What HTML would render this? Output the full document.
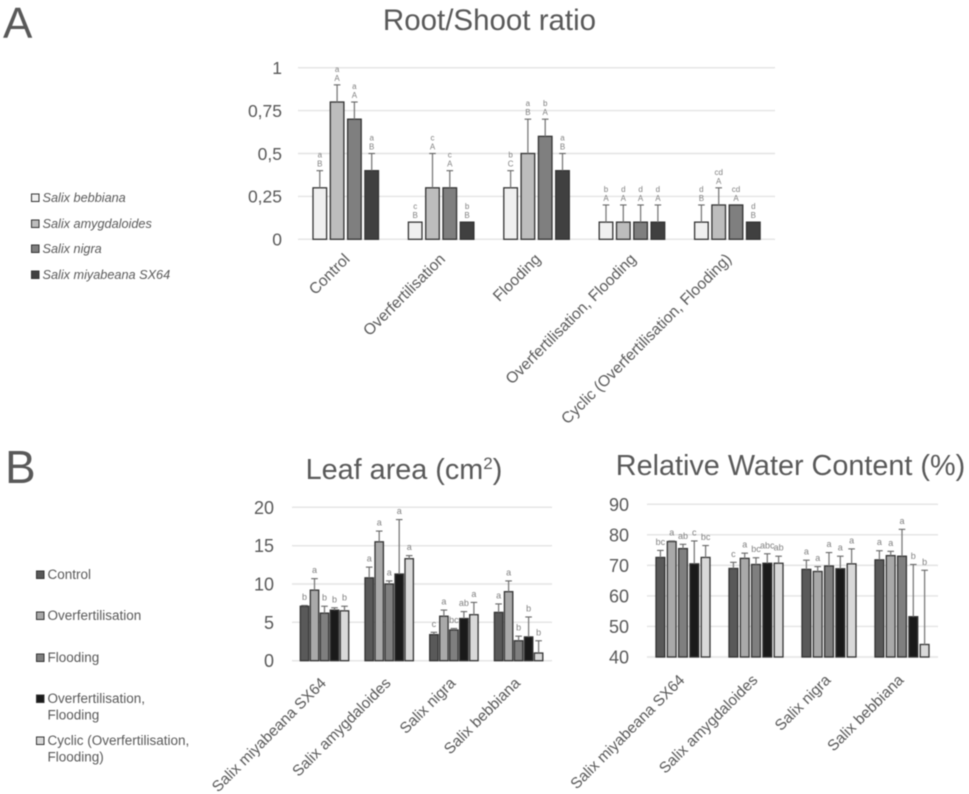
<!DOCTYPE html>
<html lang="en">
<head>
<meta charset="utf-8">
<title>Root/Shoot ratio, leaf area and relative water content of Salix species</title>
<style>
  html, body { margin: 0; padding: 0; background: #fff; }
  body { width: 969px; height: 794px; overflow: hidden; }
  svg { display: block; font-family: "Liberation Sans", sans-serif; filter: blur(0.45px); }
  text { fill: #595959; }
</style>
</head>
<body>
<svg id="figure" width="969" height="794" viewBox="0 0 969 794" xmlns="http://www.w3.org/2000/svg">
  <text x="3" y="38" font-size="44">A</text>
  <text x="5" y="483" font-size="46">B</text>
  <text x="489.5" y="30" font-size="29.5" text-anchor="middle">Root/Shoot ratio</text>
  <text x="404" y="479" font-size="28.8" text-anchor="middle">Leaf area (cm<tspan font-size="17" dy="-10">2</tspan><tspan dy="10">)</tspan></text>
  <text x="790.5" y="475" font-size="28.8" text-anchor="middle">Relative Water Content (%)</text>
</svg>
<script>
// Panel A: Root/Shoot ratio
const rootCategories = ['Control', 'Overfertilisation', 'Flooding', 'Overfertilisation, Flooding', 'Cyclic (Overfertilisation, Flooding)'];
const rootSeries = ['Salix bebbiana', 'Salix amygdaloides', 'Salix nigra', 'Salix miyabeana SX64'];
const rootTicks = [0, 0.25, 0.5, 0.75, 1];
const rootTickLabels = ['0', '0,25', '0,5', '0,75', '1'];
const rootValues = [
  [0.3, 0.8, 0.7, 0.4],
  [0.1, 0.3, 0.3, 0.1],
  [0.3, 0.5, 0.6, 0.4],
  [0.1, 0.1, 0.1, 0.1],
  [0.1, 0.2, 0.2, 0.1]
];
const rootErrors = [
  [0.1, 0.1, 0.1, 0.1],
  [0, 0.2, 0.1, 0],
  [0.1, 0.2, 0.1, 0.1],
  [0.1, 0.1, 0.1, 0.1],
  [0.1, 0.1, 0, 0]
];
const rootLetters = [
  [['a', 'B'], ['a', 'A'], ['a', 'A'], ['a', 'B']],
  [['c', 'B'], ['c', 'A'], ['c', 'A'], ['b', 'B']],
  [['b', 'C'], ['a', 'B'], ['b', 'A'], ['a', 'B']],
  [['b', 'A'], ['d', 'A'], ['d', 'A'], ['d', 'A']],
  [['d', 'B'], ['cd', 'A'], ['cd', 'A'], ['d', 'B']]
];
const rootColors = ['#f0f0f0', '#bdbdbd', '#7f7f7f', '#404040'];

// Panel B: shared categories and treatments
const speciesCategories = ['Salix miyabeana SX64', 'Salix amygdaloides', 'Salix nigra', 'Salix bebbiana'];
const treatmentSeries = ['Control', 'Overfertilisation', 'Flooding', 'Overfertilisation, Flooding', 'Cyclic (Overfertilisation, Flooding)'];
const treatmentColors = ['#595959', '#a9a9a9', '#7f7f7f', '#1a1a1a', '#d9d9d9'];

// Panel B: Leaf area
const leafTicks = [0, 5, 10, 15, 20];
const leafTickLabels = ['0', '5', '10', '15', '20'];
const leafValues = [
  [7.1, 9.2, 6.2, 6.6, 6.5],
  [10.8, 15.5, 10.0, 11.3, 13.3],
  [3.4, 5.8, 4.0, 5.5, 6.0],
  [6.3, 9.0, 2.6, 3.1, 1.0]
];
const leafErrors = [
  [0.1, 1.5, 0.9, 0.3, 0.6],
  [1.4, 1.4, 0.4, 7.1, 0.4],
  [0.3, 0.8, 0.2, 0.9, 1.6],
  [1.1, 1.4, 0.6, 2.6, 1.6]
];
const leafLetters = [
  ['b', 'a', 'b', 'b', 'b'],
  ['a', 'a', 'a', 'a', 'a'],
  ['c', 'a', 'bc', 'ab', 'a'],
  ['a', 'a', 'b', 'b', 'b']
];

// Panel B: Relative Water Content
const waterTicks = [40, 50, 60, 70, 80, 90];
const waterTickLabels = ['40', '50', '60', '70', '80', '90'];
const waterValues = [
  [72.6, 77.8, 75.5, 70.5, 72.6],
  [69.0, 72.3, 70.3, 70.7, 70.7],
  [68.7, 68.0, 69.8, 68.9, 70.5],
  [71.8, 73.2, 73.0, 53.2, 44.1]
];
const waterErrors = [
  [2.3, 0.2, 1.4, 7.5, 3.9],
  [2.0, 1.7, 2.2, 3.1, 2.3],
  [3.0, 1.6, 4.4, 4.1, 4.9],
  [3.0, 1.4, 8.8, 17.1, 24.3]
];
const waterLetters = [
  ['bc', 'a', 'ab', 'c', 'bc'],
  ['c', 'a', 'bc', 'abc', 'ab'],
  ['a', 'a', 'a', 'a', 'a'],
  ['a', 'a', 'a', 'b', 'b']
];

const SVG_NS = 'http://www.w3.org/2000/svg';
const figure = document.getElementById('figure');

function make(tag, props, parent) {
  const el = document.createElementNS(SVG_NS, tag);
  Object.keys(props).forEach(function (k) { el.setAttribute(k, props[k]); });
  (parent || figure).appendChild(el);
  return el;
}

function drawChart(o) {
  const yScale = function (v) {
    return o.y0 + (v - o.ticks[0]) / (o.ticks[o.ticks.length - 1] - o.ticks[0]) * (o.y1 - o.y0);
  };
  const barX = function (g, s) { return o.x0 + g * o.groupPitch + s * o.barPitch; };
  const group = make('g', {});
  
  

  o.ticks.forEach(function (t, i) {
    const line = make('line', { x1: o.gridX0, x2: o.gridX1, y1: yScale(t), y2: yScale(t), stroke: '#e3e3e3', 'stroke-width': 1.4 }, group);
    
    
    const label = make('text', { x: o.tickX, y: yScale(t) + o.tickSize * 0.36, 'font-size': o.tickSize, 'text-anchor': 'end' }, group);
    
    
    label.textContent = o.tickLabels[i];
  });

  o.values.forEach(function (row, g) {
    row.forEach(function (v, s) {
      const x = barX(g, s);
      const top = yScale(v);
      const cx = x + o.barW / 2;
      const bar = make('rect', { x: x, y: top, width: o.barW, height: yScale(o.ticks[0]) - top, fill: o.colors[s], stroke: '#333', 'stroke-width': 1.3 }, group);
      
      
      const errTop = yScale(v + o.errors[g][s]);
      if (o.errors[g][s] > 0) {
        const stem = make('line', { x1: cx, x2: cx, y1: top, y2: errTop, stroke: '#7a7a7a', 'stroke-width': 1.3 }, group);
        
        
        const cap = make('line', { x1: cx - 3.3, x2: cx + 3.3, y1: errTop, y2: errTop, stroke: '#666', 'stroke-width': 1.1 }, group);
        
        
      }
      const lines = [].concat(o.letters[g][s]);
      lines.forEach(function (txt, i) {
        const letter = make('text', {
          x: cx,
          y: errTop - o.letterGap - (lines.length - 1 - i) * o.letterLead,
          'font-size': o.letterSize,
          'text-anchor': 'middle',
          style: 'fill:#808080'
        }, group);
        
        
        letter.textContent = txt;
      });
    });
  });

  o.categories.forEach(function (c, g) {
    const cx = barX(g, 0) + ((o.values[g].length - 1) * o.barPitch + o.barW) / 2 + o.catDx;
    const label = make('text', { x: cx, y: o.catY, 'font-size': o.catSize, 'text-anchor': 'end', transform: 'rotate(-45 ' + cx + ' ' + o.catY + ')' }, group);
    
    
    label.textContent = c;
  });
}

function drawLegendEntry(x, y, color, lines, italic, size) {
  const entry = make('g', {});
  
  
  const swatch = make('rect', { x: x, y: y - 4, width: 7.5, height: 7.5, fill: color, stroke: '#333', 'stroke-width': 1 }, entry);
  
  
  lines.forEach(function (txt, i) {
    const t = make('text', { x: x + 11, y: y + 4 + i * 16.5, 'font-size': size, 'font-style': italic ? 'italic' : 'normal' }, entry);
    
    
    t.textContent = txt;
  });
}

drawChart({
  name: 'root-shoot-chart', categories: rootCategories, values: rootValues, errors: rootErrors,
  letters: rootLetters, ticks: rootTicks, tickLabels: rootTickLabels, colors: rootColors,
  y0: 239.3, y1: 67.7, x0: 313, barW: 13.6, barPitch: 17.3, groupPitch: 95.4,
  gridX0: 298, gridX1: 775, tickX: 282, tickSize: 17.5,
  letterSize: 8, letterLead: 9, letterGap: 4,
  catDx: 5, catY: 260, catSize: 15.6
});

drawChart({
  name: 'leaf-area-chart', categories: speciesCategories, values: leafValues, errors: leafErrors,
  letters: leafLetters, ticks: leafTicks, tickLabels: leafTickLabels, colors: treatmentColors,
  y0: 660.7, y1: 507.3, x0: 300.3, barW: 8.4, barPitch: 10, groupPitch: 64.7,
  gridX0: 292, gridX1: 552, tickX: 274, tickSize: 18,
  letterSize: 9, letterLead: 0, letterGap: 5.5,
  catDx: 2.5, catY: 684, catSize: 15.3
});

drawChart({
  name: 'water-content-chart', categories: speciesCategories, values: waterValues, errors: waterErrors,
  letters: waterLetters, ticks: waterTicks, tickLabels: waterTickLabels, colors: treatmentColors,
  y0: 657, y1: 504.3, x0: 656, barW: 8.8, barPitch: 11.3, groupPitch: 73,
  gridX0: 647, gridX1: 938, tickX: 629, tickSize: 18,
  letterSize: 9, letterLead: 0, letterGap: 5.5,
  catDx: 2.5, catY: 681, catSize: 15.3
});

const rootLegendY = [198, 224, 249, 275];
rootSeries.forEach(function (name, i) {
  drawLegendEntry(31.5, rootLegendY[i], rootColors[i], [name], true, 12.7);
});

const treatmentLegendY = [575, 616, 658, 699, 741];
const treatmentLegendLines = [['Control'], ['Overfertilisation'], ['Flooding'], ['Overfertilisation,', 'Flooding'], ['Cyclic (Overfertilisation,', 'Flooding)']];
treatmentSeries.forEach(function (name, i) {
  drawLegendEntry(36.5, treatmentLegendY[i], treatmentColors[i], treatmentLegendLines[i], false, 13.5);
});
</script>
</body>
</html>
